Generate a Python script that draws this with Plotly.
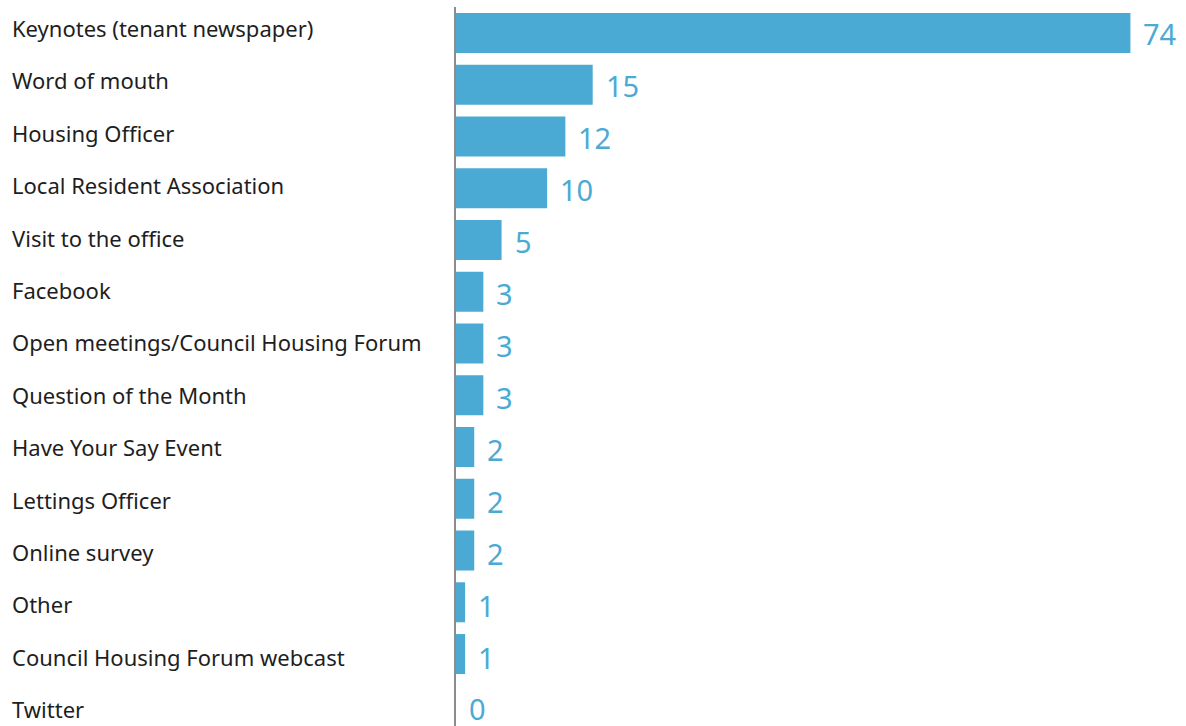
import plotly.graph_objects as go

# How respondents heard about the consultation
sources = [
    "Keynotes (tenant newspaper)",
    "Word of mouth",
    "Housing Officer",
    "Local Resident Association",
    "Visit to the office",
    "Facebook",
    "Open meetings/Council Housing Forum",
    "Question of the Month",
    "Have Your Say Event",
    "Lettings Officer",
    "Online survey",
    "Other",
    "Council Housing Forum webcast",
    "Twitter",
]
counts = [74, 15, 12, 10, 5, 3, 3, 3, 2, 2, 2, 1, 1, 0]

BAR_COLOR = "#4BAAD4"
FONT = "Noto Sans"

W, H = 1186, 726
LEFT, TOP = 456, 7

fig = go.Figure(
    go.Bar(
        x=counts,
        y=sources,
        orientation="h",
        marker=dict(color=BAR_COLOR, line=dict(width=0)),
        hoverinfo="x+y",
    )
)

# category labels, left aligned at the page edge; their rows are spaced
# slightly wider than the bar rows
for i, name in enumerate(sources):
    fig.add_annotation(
        x=0, xref="paper", y=name, yref="y",
        text=name, showarrow=False,
        xanchor="left", xshift=-(LEFT - 10),
        yshift=5 - 0.65 * i,
        font=dict(family=FONT, size=22, color="#1e1e1e"),
    )

# value labels to the right of each bar
for i, (name, v) in enumerate(zip(sources, counts)):
    fig.add_annotation(
        x=v, xref="x", y=name, yref="y",
        text=str(v), showarrow=False,
        xanchor="left", xshift=11,
        yshift=-min(0.5 + 0.3 * i, 3.0),
        font=dict(family=FONT, size=29, color=BAR_COLOR),
    )

fig.update_layout(
    width=W, height=H,
    margin=dict(l=LEFT, r=0, t=TOP, b=0),
    paper_bgcolor="white",
    plot_bgcolor="white",
    bargap=0.227,
    showlegend=False,
    xaxis=dict(
        range=[0, 80.1],
        showgrid=False, zeroline=False, showticklabels=False,
        showline=False, ticks="",
    ),
    yaxis=dict(
        type="category",
        categoryorder="array", categoryarray=sources,
        range=[13.39, -0.5],
        showgrid=False, zeroline=False, showticklabels=False, ticks="",
        showline=True, linecolor="#8c8c8c", linewidth=2,
    ),
)

fig.write_html("out.html")
